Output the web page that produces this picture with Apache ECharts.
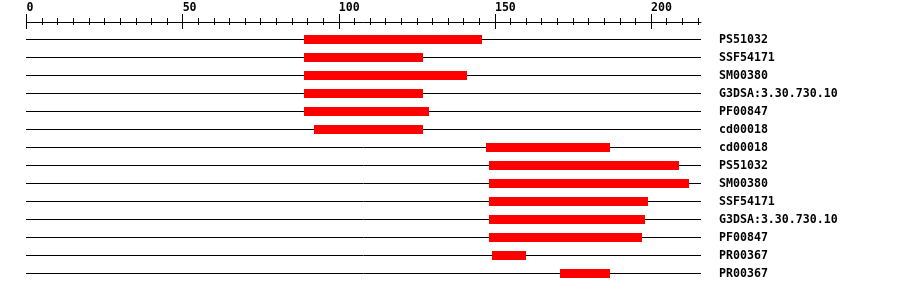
<!DOCTYPE html>
<html>
<head>
<meta charset="utf-8">
<script src="https://cdn.jsdelivr.net/npm/echarts@6/dist/echarts.min.js"></script>
<style>html,body{margin:0;padding:0;background:#fff}#c{width:900px;height:292px}</style>
</head>
<body>
<div id="c"></div>
<script>
const names = ["PS51032","SSF54171","SM00380","G3DSA:3.30.730.10","PF00847","cd00018","cd00018","PS51032","SM00380","SSF54171","G3DSA:3.30.730.10","PF00847","PR00367","PR00367"];
const starts = [89,89,89,89,89,92,147,148,148,148,148,148,149,171];
const ends   = [146,127,141,127,129,127,187,209,212,199,198,197,160,187];
const seqLength = 216;
const lastMinorTick = 215;
const majorTickMax = 200;
const majorStep = 50;
const minorStep = 5;

const FONT = '"DejaVu Sans Mono",monospace';
const PX = 674.5 / seqLength;
const L = 26.5;
const AXIS_Y = 22;

const chart = echarts.init(document.getElementById('c'), null, {renderer:'canvas'});
const rows = names.map((n,i)=>[i, starts[i], ends[i]]);

function tickAxis(grid, max, interval, inside, len, labels){
  return {gridIndex:grid, type:'value', position:'top', min:0, max:max, interval:interval,
    axisLine:{show:false, onZero:false},
    axisTick:{show:true, inside:inside, length:len, lineStyle:{color:'#000', width:1}},
    axisLabel:labels ? {show:true, align:'left', margin:8, color:'#000', fontFamily:FONT, fontWeight:'bold', fontSize:11.6, lineHeight:12} : {show:false},
    splitLine:{show:false}};
}

chart.setOption({
  animation:false,
  grid:[
    {left:L, width:seqLength*PX, top:30.5, height:252},
    {left:L, width:majorTickMax*PX, top:AXIS_Y, height:10},
    {left:L, width:lastMinorTick*PX, top:AXIS_Y, height:10}
  ],
  xAxis:[
    {gridIndex:0, type:'value', position:'top', min:0, max:seqLength, offset:8.5,
     axisLine:{show:true, onZero:false, lineStyle:{color:'#000', width:1}}, axisTick:{show:false}, axisLabel:{show:false}, splitLine:{show:false}},
    tickAxis(1, majorTickMax, majorStep, false, 8, true),
    tickAxis(1, majorTickMax, majorStep, true, 7, false),
    tickAxis(2, lastMinorTick, minorStep, false, 4, false),
    tickAxis(2, lastMinorTick, minorStep, true, 3, false)
  ],
  yAxis:[
    {gridIndex:0, type:'category', data:names, inverse:true, position:'right',
     axisLine:{show:false}, axisTick:{show:false}, splitLine:{show:false},
     axisLabel:{show:true, align:'left', margin:18, color:'#000', fontFamily:FONT, fontWeight:'bold', fontSize:11.6}},
    {gridIndex:1, type:'value', show:false},
    {gridIndex:2, type:'value', show:false}
  ],
  series:[{
    type:'custom', xAxisIndex:0, yAxisIndex:0,
    data:rows,
    encode:{x:[1,2], y:0},
    renderItem:function(params, api){
      const i = api.value(0);
      const p0 = api.coord([0, i]);
      const p1 = api.coord([seqLength, i]);
      const a = api.coord([api.value(1), i]);
      const b = api.coord([api.value(2), i]);
      const y = Math.floor(p0[1]) + 0.5;
      return {type:'group', children:[
        {type:'line', shape:{x1:Math.floor(p0[0]), y1:y, x2:p1[0], y2:y}, style:{stroke:'#000', lineWidth:1}},
        {type:'rect', shape:{x:Math.round(a[0]), y:y-4.5, width:Math.round(b[0])-Math.round(a[0]), height:9}, style:{fill:'#ff0000'}}
      ]};
    }
  }]
});
</script>
</body>
</html>
